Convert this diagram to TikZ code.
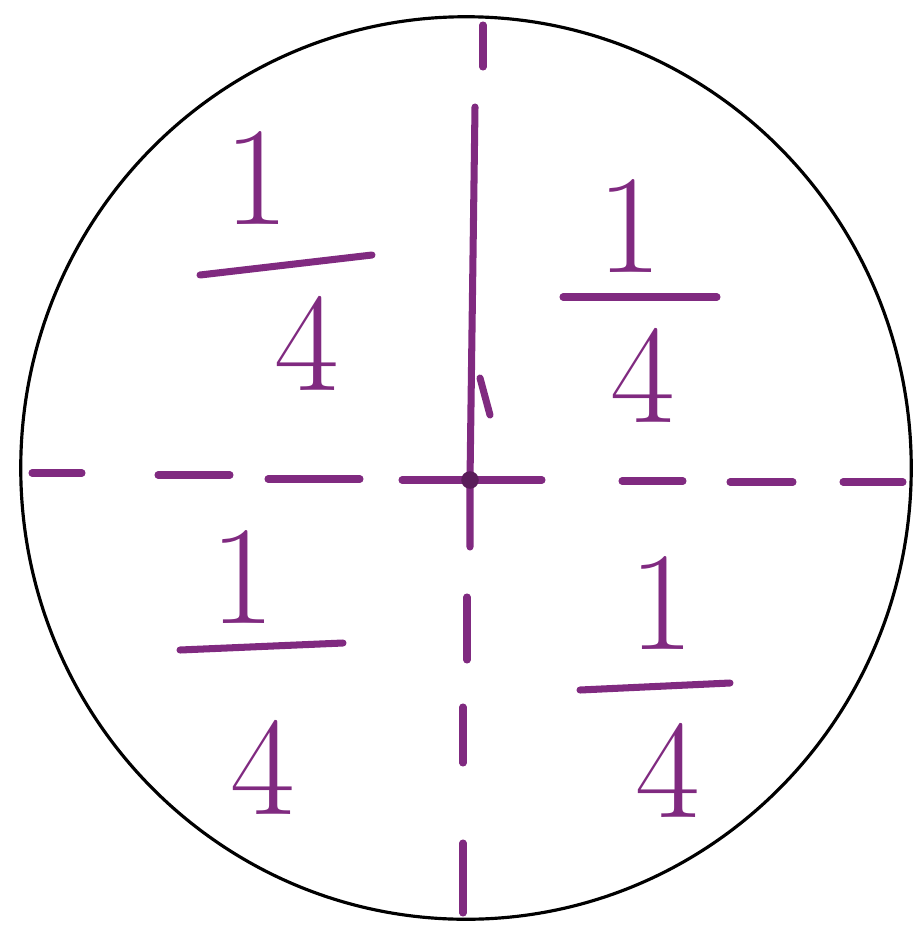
\documentclass[tikz,border=0pt]{standalone}
\usepackage{fontspec}
\definecolor{inchiostro}{RGB}{128,42,128}
\begin{document}
\begin{tikzpicture}[x=0.01cm,y=-0.01cm]
	\tikzset{cifra/.style={text=inchiostro, font=\fontsize{40}{48}\selectfont, inner sep=0pt},
		tratto/.style={draw=inchiostro, line width=2pt, line cap=round}}
	\useasboundingbox (0,0) rectangle (913,927);
	
	% Cerchio
	\coordinate (O) at (466,468);
	\draw[line width=0.9pt] (O) ellipse [x radius=4.45cm, y radius=4.51cm];
	
	% Asse orizzontale tratteggiato
	\foreach \xa/\xb/\yy in {32/82/473, 158/230/475, 268/360/479, 402/542/480, 622/683/481, 730/793/482, 843/903/482}
		\draw[tratto] (\xa,\yy) -- (\xb,\yy);
	
	% Asse verticale
	\coordinate (C) at (470,480);
	\draw[tratto] (483,25) -- (483,67);
	\draw[tratto] (475,107) -- (C) -- (470,547);
	\draw[tratto] (480,378) -- (490,415);
	\foreach \ya/\yb/\xx in {597/660/467, 707/763/463, 843/913/463}
		\draw[tratto] (\xx,\ya) -- (\xx,\yb);
	\fill[inchiostro!70!black] (C) circle (2.5pt);
	
	% Quarto in alto a sinistra
	\node[cifra] (n1) at (257,178) {1};
	\draw[tratto] (200,275) -- (372,255);
	\node[cifra] (d1) at (307,343) {4};
	
	% Quarto in alto a destra
	\node[cifra] (n2) at (630,226) {1};
	\draw[tratto] (563,297) -- (717,297);
	\node[cifra] (d2) at (643,375) {4};
	
	% Quarto in basso a sinistra
	\node[cifra] (n3) at (243,577) {1};
	\draw[tratto] (180,650) -- (343,643);
	\node[cifra] (d3) at (263,767) {4};
	
	% Quarto in basso a destra
	\node[cifra] (n4) at (662,603) {1};
	\draw[tratto] (580,690) -- (730,683);
	\node[cifra] (d4) at (668,770) {4};
\end{tikzpicture}
\end{document}
